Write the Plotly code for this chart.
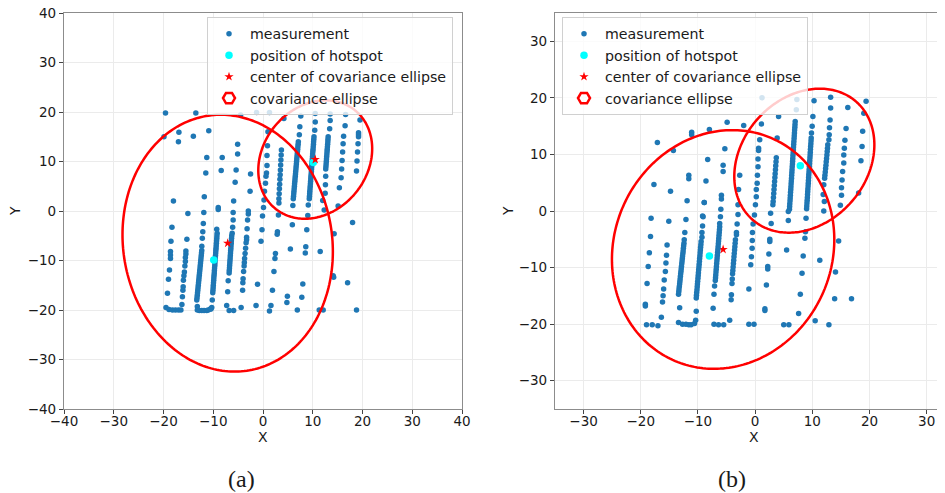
import numpy as np
import plotly.graph_objects as go

# ---------------- panel (a) measurements (x, y) ----------------
A_UPPER_LEFT = [(-19.6, 19.8), (-13.5, 19.8), (-19.9, 15.0), (-16.9, 15.9), (-17.0, 14.0), (-14.0, 15.1),
                (-10.9, 16.2), (-4.5, 19.4), (-1.3, 19.9), (1.3, 19.9), (-5.1, 13.5), (-5.1, 11.5),
                (-11.3, 10.8), (-8.2, 10.8), (-11.5, 7.7), (-8.4, 8.2), (-5.4, 8.3), (-5.6, 5.8),
                (-2.5, 7.5), (-2.6, 4.0), (-18.0, 2.0), (-11.8, 2.9), (-15.1, -0.5), (-11.9, -0.3),
                (-9.0, 0.7), (-9.0, 0.3), (-5.9, 2.0), (-6.0, -0.3), (-2.95, 0.0), (-2.95, -0.6),
                (0.2, 2.2), (0.1, 0.7), (-0.1, -1.0), (3.2, 1.6), (3.1, -0.8)]
A_RIGHT_SPARSE = [(1.0, 16.0), (0.9, 13.2), (0.8, 11.2), (0.8, 9.2), (0.7, 7.7), (0.6, 7.0), (0.5, 5.6),
                  (0.3, 4.0), (3.7, 12.3), (3.65, 11.3), (3.6, 10.3), (3.55, 9.3), (3.5, 8.3), (3.45, 7.3),
                  (3.4, 6.4), (3.35, 5.4), (3.3, 4.5), (3.25, 3.5), (3.2, 2.5), (4.2, 18.7),
                  (7.6, 19.2), (7.4, 17.0), (7.3, 15.4), (10.5, 19.7), (10.5, 18.0), (10.4, 16.3),
                  (9.1, 1.2), (9.0, -0.9), (13.5, 19.6), (13.5, 18.3), (13.4, 16.6), (12.6, 7.0),
                  (12.55, 5.3), (12.5, 3.6), (12.0, 2.1), (12.3, 0.2), (16.6, 19.5), (16.5, 17.2),
                  (16.2, 15.1), (16.1, 13.6), (16.0, 11.9), (15.9, 10.2), (15.8, 8.5), (15.7, 6.7),
                  (15.35, 4.7), (15.1, 1.0), (19.5, 18.4), (19.2, 15.8), (19.2, 15.4), (19.2, 15.0),
                  (19.1, 13.6), (19.0, 11.9), (18.9, 10.1), (18.8, 8.1)]
A_COL7 = [(7.10, 14.0), (7.06, 13.5), (7.01, 13.0), (6.97, 12.5), (6.92, 12.0), (6.88, 11.5), (6.84, 11.0),
          (6.79, 10.5), (6.75, 10.0), (6.71, 9.5), (6.66, 9.0), (6.62, 8.5), (6.57, 8.0), (6.53, 7.5),
          (6.49, 7.0), (6.44, 6.5), (6.40, 6.0), (6.35, 5.5), (6.31, 5.0), (6.27, 4.5), (6.22, 4.0),
          (6.18, 3.5), (6.14, 3.0), (6.09, 2.5)]
A_COL10 = [(10.25, 15.0), (10.21, 14.5), (10.17, 14.0), (10.14, 13.5), (10.10, 13.0), (10.06, 12.5),
           (10.02, 12.0), (9.98, 11.5), (9.95, 11.0), (9.91, 10.5), (9.87, 10.0), (9.83, 9.5), (9.79, 9.0),
           (9.76, 8.5), (9.72, 8.0), (9.68, 7.5), (9.64, 7.0), (9.60, 6.5), (9.57, 6.0), (9.53, 5.5),
           (9.49, 5.0), (9.45, 4.5), (9.41, 4.0), (9.38, 3.5), (9.34, 3.0), (9.30, 2.5)]
A_COL13 = [(13.10, 15.0), (13.06, 14.5), (13.03, 14.0), (12.99, 13.5), (12.95, 13.0), (12.91, 12.5),
           (12.88, 12.0), (12.84, 11.5), (12.80, 11.0), (12.76, 10.5), (12.73, 10.0), (12.69, 9.5),
           (12.65, 9.0), (12.61, 8.5)]
A_LOWER_RIGHT = [(6.0, 1.1), (5.9, -2.8), (5.5, -7.7), (4.9, -17.2), (4.8, -18.5), (6.9, -20.0),
                 (2.9, -4.2), (2.85, -4.7), (2.5, -8.6), (2.4, -9.6), (2.2, -12.2), (1.9, -16.0),
                 (1.6, -19.1), (1.3, -20.2), (-0.2, -3.8), (-0.4, -6.1), (-1.1, -14.8), (-1.4, -19.1),
                 (8.8, -3.8), (8.6, -7.2), (8.5, -8.5), (8.0, -14.75), (7.8, -17.4), (11.5, -8.2),
                 (11.3, -20.0), (12.1, -20.0), (14.3, -4.6), (14.1, -13.1), (14.2, -13.4), (18.0, -2.3),
                 (17.0, -14.5), (18.8, -20.0)]
A_LOWER_LEFT = [(-18.3, -3.3), (-18.5, -6.1), (-18.6, -8.2), (-18.6, -8.9), (-18.6, -9.6), (-18.8, -11.9),
                (-19.0, -13.8), (-19.2, -16.6), (-19.5, -19.5), (-18.9, -19.9), (-18.2, -20.0),
                (-17.6, -20.0), (-17.0, -20.0), (-16.5, -20.0), (-15.3, -5.7), (-15.5, -8.1), (-15.5, -8.7),
                (-15.6, -9.4), (-15.6, -10.2), (-15.7, -11.1), (-15.8, -12.3), (-15.9, -13.1), (-16.0, -14.0),
                (-16.05, -15.3), (-16.1, -16.0), (-16.2, -17.3), (-16.3, -18.9), (-12.0, -2.5), (-12.1, -4.2),
                (-12.2, -5.5), (-12.3, -7.1), (-13.2, -19.3), (-13.2, -20.0), (-12.8, -20.1), (-12.3, -20.1),
                (-11.85, -20.1), (-11.3, -20.1), (-11.0, -20.0), (-10.6, -19.8), (-10.3, -19.5),
                (-9.3, -3.7), (-10.2, -18.0), (-10.45, -19.8), (-6.0, -1.8), (-6.1, -3.3), (-6.2, -4.5),
                (-7.0, -14.1), (-7.1, -16.3), (-7.3, -19.1), (-6.8, -20.1), (-5.9, -20.1), (-3.1, -1.8),
                (-3.2, -3.6), (-3.3, -5.3), (-3.3, -5.8), (-3.4, -6.4), (-3.5, -7.5), (-3.6, -8.6),
                (-3.7, -9.6), (-3.75, -10.4), (-3.8, -11.1), (-3.9, -12.2), (-4.0, -13.7), (-4.05, -14.5),
                (-4.1, -16.0), (-4.4, -19.5)]
A_COLM12 = [(-12.31, -8.0), (-12.36, -8.5), (-12.41, -9.0), (-12.46, -9.5), (-12.51, -10.0), (-12.56, -10.5),
            (-12.61, -11.0), (-12.66, -11.5), (-12.71, -12.0), (-12.76, -12.5), (-12.81, -13.0),
            (-12.86, -13.5), (-12.91, -14.0), (-12.96, -14.5), (-13.01, -15.0), (-13.06, -15.5),
            (-13.11, -16.0), (-13.16, -16.5), (-13.21, -17.0), (-13.26, -17.5), (-13.31, -18.0)]
A_COLM10 = [(-9.22, -4.5), (-9.26, -5.0), (-9.29, -5.5), (-9.33, -6.0), (-9.37, -6.5), (-9.40, -7.0),
            (-9.44, -7.5), (-9.48, -8.0), (-9.51, -8.5), (-9.55, -9.0), (-9.59, -9.5), (-9.62, -10.0),
            (-9.66, -10.5), (-9.69, -11.0), (-9.73, -11.5), (-9.77, -12.0), (-9.80, -12.5), (-9.84, -13.0),
            (-9.88, -13.5), (-9.91, -14.0), (-9.95, -14.5), (-9.99, -15.0), (-10.02, -15.5), (-10.06, -16.0),
            (-10.10, -16.5)]
A_COLM6 = [(-6.29, -5.0), (-6.32, -5.5), (-6.36, -6.0), (-6.39, -6.5), (-6.43, -7.0), (-6.46, -7.5),
           (-6.50, -8.0), (-6.53, -8.5), (-6.57, -9.0), (-6.60, -9.5), (-6.64, -10.0), (-6.67, -10.5),
           (-6.71, -11.0), (-6.74, -11.5), (-6.78, -12.0), (-6.81, -12.5)]

A_HOT_X = [-9.9, 10.1]
A_HOT_Y = [-9.9, 9.8]
A_CEN_X = [-7.1, 10.5]
A_CEN_Y = [-6.5, 10.4]
A_STAR_X = [-7.1, 10.5]
A_STAR_Y = [-6.5, 10.4]
A_SXX = [447.0, 131.0]
A_SYY = [673.0, 143.0]
A_SXY = [-36.0, 25.0]

# ---------------- panel (b) measurements (x, y) ----------------
B_UPPER_LEFT = [(-17.1, 12.1), (-14.3, 10.7), (-11.1, 13.9), (-11.1, 13.5), (-8.0, 14.4), (-4.9, 15.7),
                (-2.0, 15.1), (1.2, 20.0), (-5.3, 11.0), (-8.3, 9.1), (-5.6, 8.1), (-5.6, 7.0),
                (-11.6, 6.3), (-11.6, 5.7), (-8.6, 5.3), (-17.7, 4.7), (-14.8, 3.5), (-11.9, 1.8),
                (-8.9, 1.5), (-5.9, 2.8), (-5.9, 2.1), (-6.0, 0.3), (-2.7, 6.3), (-2.9, 3.8), (-3.0, 1.1),
                (-3.0, -0.6), (-18.2, -1.3), (-15.1, -1.8), (-12.1, -1.5), (-9.1, -1.0)]
B_RIGHT_SPARSE = [(1.1, 15.4), (0.8, 12.6), (0.6, 11.1), (0.6, 10.7), (0.5, 9.2), (0.5, 7.8), (0.4, 6.3),
                  (0.35, 4.9), (0.2, 3.8), (0.2, 2.5), (0.05, 1.1), (4.1, 16.7), (3.85, 12.9),
                  (3.70, 9.4), (3.65, 8.7), (3.60, 8.0), (3.55, 7.3), (3.50, 6.6), (3.45, 5.9), (3.40, 5.2),
                  (3.35, 4.5), (3.30, 3.8), (3.25, 3.1), (3.20, 2.4), (3.15, 1.7), (3.10, 1.1),
                  (7.3, 19.7), (7.2, 17.9), (10.3, 19.5), (10.1, 16.7), (9.97, 15.0), (9.85, 13.8),
                  (13.2, 20.1), (13.2, 18.2), (13.1, 16.1), (13.0, 14.7), (12.95, 13.5), (12.9, 12.6),
                  (12.70, 11.7), (12.65, 11.1), (12.60, 10.5), (12.55, 9.9), (12.49, 9.3), (12.43, 8.7),
                  (12.38, 8.1), (12.32, 7.5), (12.26, 6.9), (12.20, 6.3), (12.15, 5.8), (12.0, 4.65),
                  (11.9, 2.9), (12.1, 1.7), (12.0, 0.0), (16.2, 18.3), (15.9, 14.6), (15.7, 12.5),
                  (15.6, 11.1), (15.5, 9.9), (15.5, 8.5), (15.3, 7.0), (15.2, 5.5), (15.1, 4.1), (15.1, 2.8),
                  (14.9, 1.0), (19.4, 19.4), (19.0, 17.3), (18.8, 14.1), (18.7, 11.4), (18.5, 8.9), (18.1, 3.2)]
B_COL7 = [(7.00, 15.8), (6.97, 15.3), (6.94, 14.8), (6.90, 14.3), (6.87, 13.8), (6.84, 13.3), (6.81, 12.8),
          (6.77, 12.3), (6.74, 11.8), (6.71, 11.3), (6.68, 10.8), (6.65, 10.3), (6.61, 9.8), (6.58, 9.3),
          (6.55, 8.8), (6.52, 8.3), (6.48, 7.8), (6.45, 7.3), (6.42, 6.8), (6.39, 6.3), (6.36, 5.8),
          (6.32, 5.3), (6.29, 4.8), (6.26, 4.3), (6.23, 3.8), (6.19, 3.3), (6.16, 2.8), (6.13, 2.3),
          (6.10, 1.8), (6.06, 1.3), (6.03, 0.8), (6.00, 0.3)]
B_COL10 = [(9.80, 12.9), (9.77, 12.4), (9.74, 11.9), (9.70, 11.4), (9.67, 10.9), (9.64, 10.4), (9.61, 9.9),
           (9.58, 9.4), (9.54, 8.9), (9.51, 8.4), (9.48, 7.9), (9.45, 7.4), (9.42, 6.9), (9.38, 6.4),
           (9.35, 5.9), (9.32, 5.4), (9.29, 4.9), (9.26, 4.4), (9.22, 3.9), (9.19, 3.4), (9.16, 2.9),
           (9.13, 2.4), (9.10, 1.9), (9.06, 1.4), (9.03, 0.9), (9.00, 0.4)]
B_LOWER_RIGHT = [(-0.12, -0.7), (-0.36, -2.3), (-0.47, -3.8), (-0.5, -5.2), (-0.53, -6.6), (-0.65, -8.1),
                 (-0.77, -9.5), (-1.1, -13.8), (-1.1, -20.0), (-0.2, -20.0), (2.7, -0.4), (2.8, -2.2),
                 (2.56, -5.0), (2.56, -5.4), (2.4, -7.6), (2.2, -9.8), (2.2, -10.25), (1.97, -13.1),
                 (1.7, -17.3), (1.7, -17.6), (5.8, -0.1), (5.8, -1.7), (5.5, -6.9), (5.0, -20.1),
                 (5.9, -20.1), (8.9, -1.3), (8.8, -3.65), (8.7, -4.8), (8.4, -7.95), (8.2, -11.0),
                 (7.9, -14.7), (7.6, -18.1), (11.3, -8.7), (12.9, -20.1), (10.5, -19.4), (14.6, -5.3),
                 (14.05, -10.8), (13.9, -15.5), (16.85, -15.5)]
B_LOWER_LEFT = [(-18.3, -4.5), (-18.5, -7.4), (-18.7, -9.8), (-18.9, -12.8), (-19.2, -16.5), (-19.2, -16.8),
                (-19.0, -20.1), (-18.0, -20.1), (-17.0, -20.3), (-15.4, -6.0), (-15.5, -7.8), (-15.6, -9.2),
                (-15.7, -10.7), (-15.9, -12.2), (-16.0, -13.8), (-16.1, -15.0), (-16.2, -16.1),
                (-16.4, -18.8), (-12.3, -3.8), (-12.4, -5.1), (-13.2, -17.1), (-13.4, -19.7), (-12.7, -20.0),
                (-12.1, -20.0), (-11.6, -20.1), (-11.2, -20.1), (-10.6, -19.9), (-8.9, 1.5), (-9.2, -0.9),
                (-9.2, -2.65), (-9.3, -3.8), (-9.3, -4.65), (-10.3, -17.7), (-10.4, -19.3), (-6.07, -1.0),
                (-6.2, -2.2), (-7.1, -13.25), (-7.2, -14.7), (-7.35, -17.2), (-7.2, -20.0), (-6.4, -20.1),
                (-5.5, -20.1), (-4.45, -19.3), (-3.15, -2.3), (-3.27, -3.8), (-3.27, -4.2), (-4.0, -12.0),
                (-4.05, -12.8), (-4.15, -14.8), (-4.2, -15.7)]
B_COLM13 = [(-12.45, -5.7), (-12.50, -6.15), (-12.55, -6.6), (-12.59, -7.05), (-12.64, -7.5), (-12.69, -7.95),
            (-12.74, -8.4), (-12.78, -8.85), (-12.83, -9.3), (-12.88, -9.75), (-12.93, -10.2), (-12.97, -10.65),
            (-13.02, -11.1), (-13.07, -11.55), (-13.12, -12.0), (-13.16, -12.45), (-13.21, -12.9),
            (-13.26, -13.35), (-13.31, -13.8), (-13.35, -14.25), (-13.40, -14.7)]
B_COLM10 = [(-9.45, -5.4), (-9.49, -5.9), (-9.54, -6.4), (-9.58, -6.9), (-9.62, -7.4), (-9.66, -7.9),
            (-9.71, -8.4), (-9.75, -8.9), (-9.79, -9.4), (-9.83, -9.9), (-9.88, -10.4), (-9.92, -10.9),
            (-9.96, -11.4), (-10.00, -11.9), (-10.05, -12.4), (-10.09, -12.9), (-10.13, -13.4),
            (-10.17, -13.9), (-10.22, -14.4), (-10.26, -14.9), (-10.30, -15.4)]
B_COLM7 = [(-6.20, -2.8), (-6.24, -3.3), (-6.28, -3.8), (-6.32, -4.3), (-6.36, -4.8), (-6.40, -5.3),
           (-6.44, -5.8), (-6.48, -6.3), (-6.52, -6.8), (-6.56, -7.3), (-6.61, -7.8), (-6.65, -8.3),
           (-6.69, -8.8), (-6.73, -9.3), (-6.77, -9.8), (-6.81, -10.3), (-6.85, -10.8), (-6.89, -11.3),
           (-6.93, -11.8), (-6.97, -12.3)]
B_COLM4 = [(-3.45, -5.1), (-3.50, -5.7), (-3.55, -6.3), (-3.60, -6.9), (-3.65, -7.5), (-3.70, -8.1),
           (-3.75, -8.7), (-3.80, -9.3), (-3.85, -9.9), (-3.90, -10.5), (-3.95, -11.1)]

B_HOT_X = [-8.0, 7.9]
B_HOT_Y = [-7.95, 8.0]
B_CEN_X = [-5.6, 8.6]
B_CEN_Y = [-6.8, 8.9]
# only the lower-left centre star is visible in panel (b)
B_STAR_X = [-5.6]
B_STAR_Y = [-6.8]
B_SXX = [378.0, 150.0]
B_SYY = [445.0, 162.0]
B_SXY = [33.8, 34.4]

LEGEND_NAMES = ["measurement", "position of hotspot", "center of covariance ellipse", "covariance ellipse"]

BLUE = "#1f77b4"
FONT = "DejaVu Sans"
# the page body has an 8 px margin, so the figure starts at (8, 8) of the window
OFF = 8
W, H = 945 - OFF, 493 - OFF


def fx(px):
    return (px - OFF) / W


def fy(py):
    return 1 - (py - OFF) / H


def collect(*groups):
    xs, ys = [], []
    for g in groups:
        for x, y in g:
            xs.append(x)
            ys.append(y)
    return xs, ys


def ellipse_path(cx, cy, sxx, syy, sxy, n=241):
    t = np.linspace(0, 2 * np.pi, n)
    parts = []
    for i in range(len(cx)):
        L = np.linalg.cholesky(np.array([[sxx[i], sxy[i]], [sxy[i], syy[i]]]))
        p = L @ np.vstack([np.cos(t), np.sin(t)])
        xs, ys = cx[i] + p[0], cy[i] + p[1]
        seg = "M" + " L".join(f"{x:.3f},{y:.3f}" for x, y in zip(xs, ys)) + " Z"
        parts.append(seg)
    return " ".join(parts)


a_x, a_y = collect(A_UPPER_LEFT, A_RIGHT_SPARSE, A_COL7, A_COL10, A_COL13, A_LOWER_RIGHT,
                   A_LOWER_LEFT, A_COLM12, A_COLM10, A_COLM6)
b_x, b_y = collect(B_UPPER_LEFT, B_RIGHT_SPARSE, B_COL7, B_COL10, B_LOWER_RIGHT, B_LOWER_LEFT,
                   B_COLM13, B_COLM10, B_COLM7, B_COLM4)

fig = go.Figure()


def meas(x, y, xa, ya, lg):
    return go.Scatter(x=x, y=y, mode="markers", xaxis=xa, yaxis=ya, legend=lg, name=LEGEND_NAMES[0],
                      legendrank=1, marker=dict(size=5.5, color=BLUE, line=dict(width=0)))


def hot(x, y, xa, ya, lg):
    return go.Scatter(x=x, y=y, mode="markers", xaxis=xa, yaxis=ya, legend=lg, name=LEGEND_NAMES[1],
                      legendrank=2, marker=dict(size=7.5, color="#00ffff", line=dict(width=0)))


def cen(x, y, xa, ya, lg):
    return go.Scatter(x=x, y=y, mode="markers", xaxis=xa, yaxis=ya, legend=lg, name=LEGEND_NAMES[2],
                      legendrank=3, marker=dict(size=7, symbol="star", color="red", line=dict(width=0)))


# panel (a)
fig.add_trace(meas(a_x, a_y, "x", "y", "legend"))
fig.add_trace(hot(A_HOT_X, A_HOT_Y, "x", "y", "legend"))
fig.add_trace(cen(A_STAR_X, A_STAR_Y, "x", "y", "legend"))
# panel (b)
fig.add_trace(cen(B_STAR_X, B_STAR_Y, "x2", "y2", "legend2"))
fig.add_trace(meas(b_x, b_y, "x2", "y2", "legend2"))
fig.add_trace(hot(B_HOT_X, B_HOT_Y, "x2", "y2", "legend2"))

for (cx, cy, sxx, syy, sxy, xr, yr, lg) in [
        (A_CEN_X, A_CEN_Y, A_SXX, A_SYY, A_SXY, "x", "y", "legend"),
        (B_CEN_X, B_CEN_Y, B_SXX, B_SYY, B_SXY, "x2", "y2", "legend2")]:
    fig.add_shape(type="path", path=ellipse_path(cx, cy, sxx, syy, sxy), xref=xr, yref=yr,
                  line=dict(color="red", width=2.5), fillcolor="rgba(0,0,0,0)", layer="above",
                  showlegend=True, name=LEGEND_NAMES[3], legend=lg, legendrank=4)

SPINE = "#8c8c8c"
GRID = "#ebebeb"
TICKF = dict(family=FONT, size=13.5, color="#1a1a1a")


def axis(rng, dom, anchor, mirror, standoff=0):
    return dict(range=rng, domain=dom, anchor=anchor, dtick=10, showgrid=True, gridcolor=GRID,
                gridwidth=1, zeroline=False, showline=True, linecolor=SPINE, linewidth=1.3,
                mirror=mirror, ticks="outside", ticklen=4, tickwidth=1, tickcolor="#444",
                tickfont=TICKF, automargin=False, fixedrange=True, ticklabelstandoff=standoff,
                ticklabeloverflow="allow")


ydom = [fy(409), fy(13)]
fig.update_layout(
    width=W, height=H, margin=dict(l=0, r=0, t=0, b=0),
    paper_bgcolor="white", plot_bgcolor="white", showlegend=True,
    xaxis=axis([-40, 40], [fx(64), fx(462)], "y", True, -4),
    yaxis=axis([-40, 40], ydom, "x", True),
    xaxis2=axis([-35, 33.2], [fx(555), 1.0], "y2", True, -4),
    yaxis2=axis([-35, 35], ydom, "x2", False),
    legend=dict(x=fx(207), y=fy(17), xanchor="left", yanchor="top", itemwidth=32,
                bgcolor="rgba(255,255,255,0.8)", bordercolor="#d0d0d0", borderwidth=1,
                font=dict(family=FONT, size=14.2, color="#1a1a1a"), traceorder="normal"),
    legend2=dict(x=fx(562), y=fy(17), xanchor="left", yanchor="top", itemwidth=32,
                 bgcolor="rgba(255,255,255,0.8)", bordercolor="#d0d0d0", borderwidth=1,
                 font=dict(family=FONT, size=14.2, color="#1a1a1a"), traceorder="normal"),
)

ann_font = dict(family=FONT, size=14, color="#1a1a1a")
cap_font = dict(family="Liberation Serif", size=24, color="#1a1a1a")
for txt, px, py, ang, f in [("X", 263, 437, 0, ann_font), ("X", 754, 437, 0, ann_font),
                            ("Y", 15, 211, -90, ann_font), ("Y", 508, 211, -90, ann_font),
                            ("(a)", 241, 479, 0, cap_font), ("(b)", 732, 479, 0, cap_font)]:
    fig.add_annotation(text=txt, x=fx(px), y=fy(py), xref="paper", yref="paper",
                       showarrow=False, textangle=ang, font=f, xanchor="center", yanchor="middle")

fig.write_html("out.html")
